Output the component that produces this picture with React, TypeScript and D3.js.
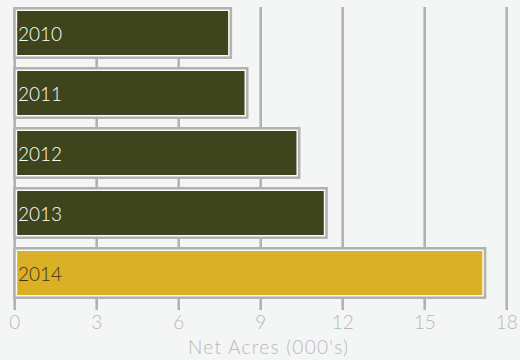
import React from "react";
import * as d3 from "d3";

const years = ["2010", "2011", "2012", "2013", "2014"];
const netAcres = [7.9, 8.5, 10.4, 11.4, 17.2];
const xTicks = [0, 3, 6, 9, 12, 15, 18];
const highlightYear = "2014";
const axisTitle = "Net Acres (000's)";

const W = 520;
const H = 360;
const FONT = "'Century Gothic', 'URW Gothic', Lato, sans-serif";
const BG = "#f4f6f5";
const GRID = "#b2b2b2";
const DARK = "#3e441c";
const GOLD = "#d9b026";

export default function App() {
  const x = d3.scaleLinear().domain([0, 18]).range([14.7, 506.7]);
  const y = d3
    .scaleBand<string>()
    .domain(years)
    .range([7, 299])
    .paddingInner(8 / 60)
    .paddingOuter(0);
  const bw = y.bandwidth();

  return (
    <svg
      width={W}
      height={H}
      style={{ position: "absolute", left: 0, top: 0, background: BG }}
    >
      <rect x={0} y={0} width={W} height={H} fill={BG} />
      {xTicks.map((t) => (
        <g key={t}>
          <line
            x1={x(t)}
            x2={x(t)}
            y1={7}
            y2={310}
            stroke={GRID}
            strokeWidth={2.6}
          />
          <text
            x={x(t)}
            y={329}
            textAnchor="middle"
            fontFamily={FONT}
            fontSize={19}
            fontWeight={300}
            fill="#b8b8b8"
          >
            {t}
          </text>
        </g>
      ))}
      {years.map((yr, i) => {
        const x0 = x(0) - 1.5;
        const x1 = x(netAcres[i]) + 1.5;
        const y0 = y(yr)!;
        const hl = yr === highlightYear;
        return (
          <g key={yr}>
            <rect x={x0} y={y0} width={x1 - x0} height={bw} fill={GRID} />
            <rect
              x={x0 + 2.6}
              y={y0 + 2.6}
              width={x1 - x0 - 5.2}
              height={bw - 5.2}
              fill="#ffffff"
            />
            <rect
              x={x0 + 4}
              y={y0 + 4}
              width={x1 - x0 - 8}
              height={bw - 8}
              fill={hl ? GOLD : DARK}
            />
            <text
              x={18}
              y={y0 + bw / 2 + 7.5}
              fontFamily={FONT}
              fontSize={19}
              fontWeight={300}
              fill={hl ? "#3a3520" : "#ffffff"}
            >
              {yr}
            </text>
          </g>
        );
      })}
      <text
        x={268}
        y={354}
        textAnchor="middle"
        fontFamily={FONT}
        fontSize={19}
        fontWeight={300}
        textLength={160}
        lengthAdjust="spacing"
        fill="#b8b8b8"
      >
        {axisTitle}
      </text>
    </svg>
  );
}
